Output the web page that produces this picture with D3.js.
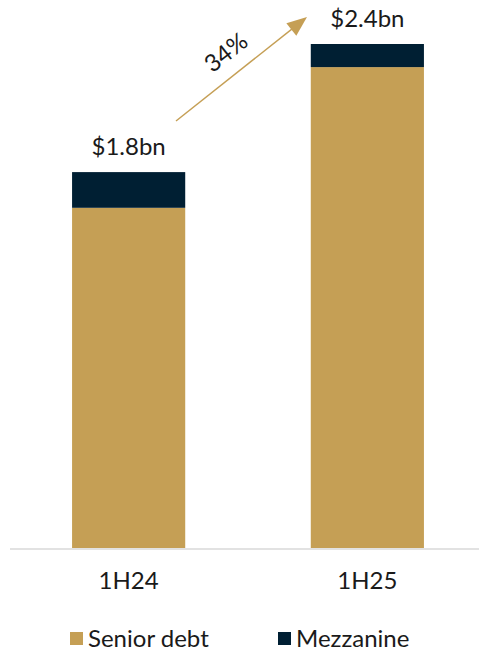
<!DOCTYPE html>
<html><head><meta charset="utf-8">
<script src="https://cdn.jsdelivr.net/npm/d3@7"></script>
<style>body{margin:0;background:#fff;} svg{display:block;font-family:Lato,"Open Sans",sans-serif;}</style>
</head><body>
<script>
const categories = ["1H24", "1H25"];
const seniorDebt = [1.62, 2.29];
const mezzanine = [0.17, 0.11];
const totalLabels = ["$1.8bn", "$2.4bn"];
const seriesNames = ["Senior debt", "Mezzanine"];
const growthLabel = "34%";

const W = 479, H = 651;
const colors = {"Senior debt": "#C59F55", "Mezzanine": "#001F33"};
const svg = d3.select("body").append("svg").attr("width", W).attr("height", H);

const x = d3.scaleBand().domain(categories).range([10, 486]).paddingInner(0.526).paddingOuter(0.26);
const y = d3.scaleLinear().domain([0, 2.4]).range([548, 44]);

const rows = categories.map((c, i) => ({cat: c, "Senior debt": seniorDebt[i], "Mezzanine": mezzanine[i]}));
const stack = d3.stack().keys(seriesNames)(rows);

svg.append("g").selectAll("g").data(stack).join("g")
  .attr("fill", d => colors[d.key])
  .selectAll("rect").data(d => d).join("rect")
  .attr("x", d => x(d.data.cat))
  .attr("width", x.bandwidth())
  .attr("y", d => y(d[1]))
  .attr("height", d => y(d[0]) - y(d[1]));

// axis line
svg.append("line").attr("x1", 10).attr("x2", W).attr("y1", y(0) + 1).attr("y2", y(0) + 1)
  .attr("stroke", "#d9d9d9").attr("stroke-width", 1.5);

// category labels
svg.selectAll("text.cat").data(categories).join("text").attr("class", "cat")
  .attr("x", d => x(d) + x.bandwidth() / 2).attr("y", 589)
  .attr("text-anchor", "middle").attr("font-size", 24).attr("fill", "#1a1a1a").text(d => d);

// total labels
svg.selectAll("text.tot").data(categories).join("text").attr("class", "tot")
  .attr("x", d => x(d) + x.bandwidth() / 2)
  .attr("y", (d, i) => y(seniorDebt[i] + mezzanine[i]) - 17)
  .attr("text-anchor", "middle").attr("font-size", 24).attr("fill", "#1a1a1a").text((d, i) => totalLabels[i]);

// arrow
svg.append("line").attr("x1", 176).attr("y1", 121).attr("x2", 300).attr("y2", 22.6)
  .attr("stroke", "#C59F55").attr("stroke-width", 1.5);
(function(){
  const x1=176,y1=121,x2=307,y2=17;
  const a=Math.atan2(y2-y1,x2-x1), L=20, w=8;
  const bx=x2-L*Math.cos(a), by=y2-L*Math.sin(a);
  const px=-Math.sin(a), py=Math.cos(a);
  svg.append("path").attr("d",`M${x2},${y2} L${bx+px*w},${by+py*w} L${bx-px*w},${by-py*w} Z`).attr("fill","#C59F55");
})();
svg.append("text").attr("transform", "translate(231,59) rotate(-38)")
  .attr("text-anchor", "middle").attr("font-size", 24).attr("fill", "#1a1a1a").text(growthLabel);

// legend
const leg = svg.append("g");
const legX = [70, 278];
seriesNames.forEach((s, i) => {
  leg.append("rect").attr("x", legX[i]).attr("y", 632).attr("width", 13).attr("height", 13).attr("fill", colors[s]);
  leg.append("text").attr("x", legX[i] + 18).attr("y", 647).attr("font-size", 24).attr("fill", "#1a1a1a").text(s);
});
</script>
</body></html>
